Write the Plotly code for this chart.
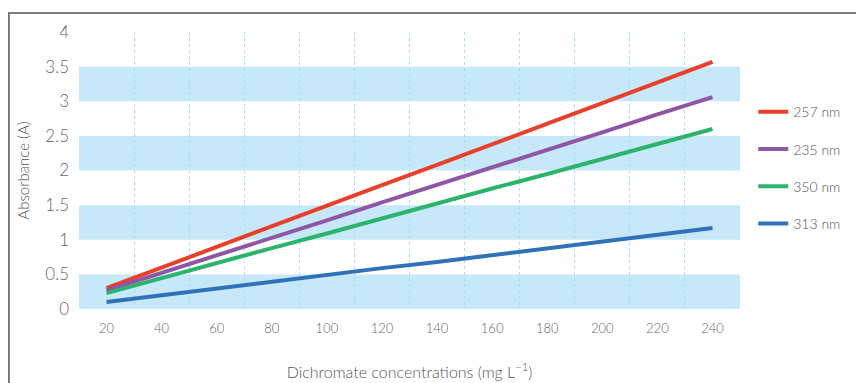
import plotly.graph_objects as go

conc = [20, 40, 60, 80, 100, 120, 140, 160, 180, 200, 220, 240]
abs_257 = [0.30, 0.60, 0.90, 1.19, 1.49, 1.79, 2.08, 2.38, 2.68, 2.97, 3.27, 3.57]
abs_235 = [0.27, 0.52, 0.78, 1.03, 1.28, 1.54, 1.79, 2.05, 2.30, 2.55, 2.81, 3.06]
abs_350 = [0.23, 0.45, 0.66, 0.88, 1.09, 1.31, 1.52, 1.74, 1.95, 2.17, 2.38, 2.60]
abs_313 = [0.10, 0.20, 0.29, 0.39, 0.49, 0.59, 0.68, 0.78, 0.88, 0.98, 1.07, 1.17]
series_names = ["257 nm", "235 nm", "350 nm", "313 nm"]
series_colors = ["#e8402b", "#8f55a6", "#2db46c", "#2f72ba"]
y_ticks = [0, 0.5, 1, 1.5, 2, 2.5, 3, 3.5, 4]
y_tick_text = ["0", "0.5", "1", "1.5", "2", "2.5", "3", "3.5", "4"]
bands = [(0, 0.5), (1, 1.5), (2, 2.5), (3, 3.5)]

FONT = "Lato"
fig = go.Figure()
for i, (name, vals, col) in enumerate(zip(series_names, [abs_257, abs_235, abs_350, abs_313], series_colors)):
    fig.add_trace(go.Scatter(x=conc, y=vals, mode="lines", name=name,
                             line=dict(color=col, width=4), legendgroup=f"g{i}"))

shapes = []
for y0, y1 in bands:
    shapes.append(dict(type="rect", xref="paper", yref="y", x0=0, x1=1, y0=y0, y1=y1,
                       fillcolor="#c6e8f8", line=dict(width=0), layer="below"))
# outer frame
shapes.append(dict(type="rect", xref="paper", yref="paper", x0=-0.106, x1=1.6, y0=-0.6, y1=1.0686,
                   line=dict(color="#555555", width=1.5), fillcolor="rgba(0,0,0,0)", layer="above"))

minor_vals = [c - 10 for c in conc] + [conc[-1] + 10]

fig.update_layout(
    width=856, height=375,
    margin=dict(l=71, r=124, t=24, b=74),
    paper_bgcolor="white", plot_bgcolor="white",
    font=dict(family=FONT, color="#666666", weight=300),
    shapes=shapes,
    showlegend=True,
    legend=dict(x=1.02, y=0.768, xanchor="left", yanchor="top",
                font=dict(size=14, color="#555555", family=FONT, weight=300),
                tracegroupgap=16, bgcolor="rgba(0,0,0,0)"),
    xaxis=dict(range=[10, 250], tickvals=conc, ticktext=[str(c) for c in conc],
               showgrid=False, zeroline=False, showline=False, ticks="", automargin=False,
               tickfont=dict(size=13, color="#666666", weight=300), ticklabelstandoff=10,
               minor=dict(tickvals=minor_vals, showgrid=True, gridcolor="#a9dcf3",
                          griddash="dot", gridwidth=1, ticks=""),
               title=dict(text="Dichromate concentrations (mg L<sup>−1</sup>)", standoff=31,
                          font=dict(size=16, color="#555555", weight=300))),
    yaxis=dict(range=[0, 4], tickvals=y_ticks, ticktext=y_tick_text,
               showgrid=False, zeroline=False, showline=False, ticks="", automargin=False,
               tickfont=dict(size=17, color="#666666", weight=300), ticklabelstandoff=9,
               title=dict(text="Absorbance (A)", standoff=12,
                          font=dict(size=15, color="#555555", weight=300))),
)

fig.write_html("out.html")
